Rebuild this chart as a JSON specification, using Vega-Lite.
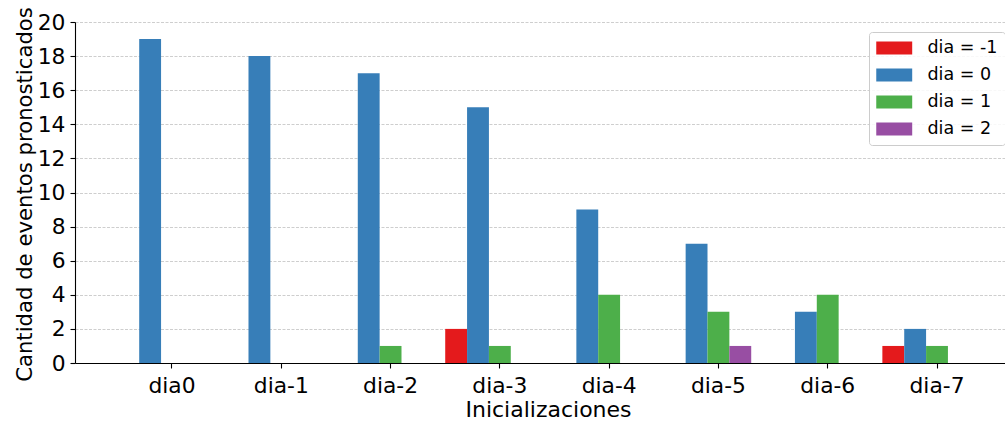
{
  "$schema": "https://vega.github.io/schema/vega-lite/v6.json",
  "width": 930,
  "height": 341,
  "autosize": {"type": "none"},
  "padding": {"left": 75, "top": 22, "right": 0, "bottom": 58},
  "background": "white",
  "config": {
    "font": "DejaVu Sans",
    "view": {"stroke": null},
    "axis": {
      "labelFont": "DejaVu Sans",
      "titleFont": "DejaVu Sans",
      "labelFontSize": 21.8,
      "titleFontSize": 22,
      "labelColor": "black",
      "titleColor": "black",
      "titleFontWeight": "normal",
      "domainColor": "black",
      "domainWidth": 1.1,
      "tickColor": "black",
      "tickWidth": 1.1,
      "tickSize": 5
    }
  },
  "data": {
    "values": [
      {"ini": "dia0", "dia": "dia = 0", "n": 19},
      {"ini": "dia-1", "dia": "dia = 0", "n": 18},
      {"ini": "dia-2", "dia": "dia = 0", "n": 17},
      {"ini": "dia-2", "dia": "dia = 1", "n": 1},
      {"ini": "dia-3", "dia": "dia = -1", "n": 2},
      {"ini": "dia-3", "dia": "dia = 0", "n": 15},
      {"ini": "dia-3", "dia": "dia = 1", "n": 1},
      {"ini": "dia-4", "dia": "dia = 0", "n": 9},
      {"ini": "dia-4", "dia": "dia = 1", "n": 4},
      {"ini": "dia-5", "dia": "dia = 0", "n": 7},
      {"ini": "dia-5", "dia": "dia = 1", "n": 3},
      {"ini": "dia-5", "dia": "dia = 2", "n": 1},
      {"ini": "dia-6", "dia": "dia = 0", "n": 3},
      {"ini": "dia-6", "dia": "dia = 1", "n": 4},
      {"ini": "dia-7", "dia": "dia = -1", "n": 1},
      {"ini": "dia-7", "dia": "dia = 0", "n": 2},
      {"ini": "dia-7", "dia": "dia = 1", "n": 1}
    ]
  },
  "mark": {"type": "bar"},
  "encoding": {
    "x": {
      "field": "ini",
      "type": "nominal",
      "sort": ["dia0", "dia-1", "dia-2", "dia-3", "dia-4", "dia-5", "dia-6", "dia-7"],
      "scale": {"type": "band", "range": [0, 959], "paddingInner": 0, "paddingOuter": 0.3875},
      "axis": {
        "title": "Inicializaciones",
        "labelAngle": 0,
        "labelPadding": 7,
        "labelBaseline": "top",
        "titleX": 473,
        "titleY": 53,
        "titleBaseline": "alphabetic",
        "titleAlign": "center",
        "grid": false
      }
    },
    "xOffset": {
      "field": "dia",
      "type": "nominal",
      "scale": {"domain": ["dia = -1", "dia = 0", "dia = 1", "dia = 2", "pad"], "paddingInner": 0, "paddingOuter": 0}
    },
    "y": {
      "field": "n",
      "type": "quantitative",
      "scale": {"domain": [0, 20], "nice": false},
      "axis": {
        "title": "Cantidad de eventos pronosticados",
        "values": [0, 2, 4, 6, 8, 10, 12, 14, 16, 18, 20],
        "labelPadding": 5,
        "labelBaseline": "middle",
        "grid": true,
        "gridColor": "#c8c8c8",
        "gridDash": [3, 1.5],
        "gridWidth": 0.9,
        "titleFontSize": 21.2,
        "titleX": -44,
        "titleY": 172,
        "titleAngle": -90,
        "titleAlign": "center",
        "titleBaseline": "alphabetic"
      }
    },
    "color": {
      "field": "dia",
      "type": "nominal",
      "scale": {
        "domain": ["dia = -1", "dia = 0", "dia = 1", "dia = 2"],
        "range": ["#e41a1c", "#377eb8", "#4daf4a", "#984ea3"]
      },
      "legend": {
        "title": null,
        "orient": "none",
        "legendX": 794,
        "legendY": 10,
        "padding": 7,
        "rowPadding": 9,
        "fillColor": "rgba(255,255,255,0.85)",
        "strokeColor": "#cccccc",
        "cornerRadius": 3,
        "symbolType": "M-1,-0.743H3.11V0.743H-1Z",
        "symbolSize": 306,
        "symbolStrokeWidth": 0,
        "symbolOpacity": 1,
        "labelFont": "DejaVu Sans",
        "labelFontSize": 17.5,
        "labelColor": "black",
        "labelOffset": 33.5,
        "labelBaseline": "middle"
      }
    }
  }
}
